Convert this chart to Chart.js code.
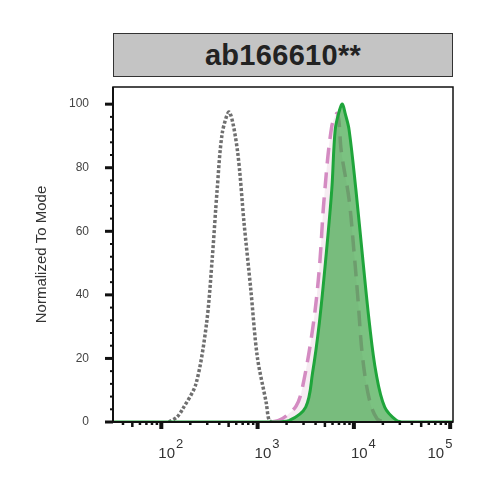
<!DOCTYPE html>
<html>
<head>
<meta charset="utf-8">
<script src="https://cdn.jsdelivr.net/npm/chart.js@4.4.1/dist/chart.umd.min.js"></script>
<style>
  html, body { margin: 0; padding: 0; background: #fff; }
  #wrap { position: relative; width: 490px; height: 490px; }
  #hdr {
    position: absolute; left: 113px; top: 33px; width: 340px; height: 44px;
    box-sizing: border-box; background: #c4c4c4; border: 1.5px solid #333;
    font: bold 29px "Liberation Sans", Arial, sans-serif; color: #222;
    text-align: center; line-height: 43px; letter-spacing: 0.3px;
  }
  canvas { position: absolute; left: 0; top: 0; }
</style>
</head>
<body>
<div id="wrap">
  <div id="hdr">ab166610**</div>
  <canvas id="c" width="490" height="490"></canvas>
</div>
<script>
  // isotype / unstained control (grey dotted)
  const grayX = [120, 145, 166, 229, 295, 339, 380, 430, 509, 617, 724, 851, 993, 1230, 1318, 1450];
  const grayY = [0, 1.5, 4, 12, 31, 52, 73, 91, 97.5, 85.5, 62.5, 41.5, 20.5, 6, 0.5, 0];

  // pink dashed sample
  const pinkX = [1410, 1660, 2000, 2510, 2880, 3720, 4370, 4900, 5890, 6760, 7410, 8910, 10000, 11000, 12300, 14500, 17400, 20900];
  const pinkY = [0, 0.5, 2, 5, 10, 29, 48, 70, 93, 97, 85, 70, 54, 39, 20.5, 7, 1, 0];

  // ab166610 (green filled)
  const greenX = [32, 1480, 2140, 3160, 3720, 4370, 5130, 5890, 6400, 7080, 7590, 8130, 8910, 10500, 12300, 14500, 17000, 20900, 27500, 33100, 107000];
  const greenY = [0, 0, 0.5, 4.7, 15.4, 31, 52, 73, 92, 98, 100, 97, 92, 73, 52, 31, 15.4, 4.7, 0.6, 0, 0];

  const yMajor = [0, 20, 40, 60, 80, 100];
  const xDecades = [2, 3, 4, 5];

  function pts(xs, ys) {
    return xs.map(function (x, i) { return { x: x, y: ys[i] }; });
  }

  const axisTicks = {
    id: 'axisTicks',
    afterDraw(chart) {
      const ctx = chart.ctx;
      const a = chart.chartArea;
      const xs = chart.scales.x;
      const ys = chart.scales.y;
      ctx.save();
      ctx.strokeStyle = '#111';
      ctx.lineWidth = 1.5;
      ctx.strokeRect(a.left, a.top, a.right - a.left, a.bottom - a.top);
      ctx.lineWidth = 2;
      ctx.beginPath();
      ctx.moveTo(a.left, a.top); ctx.lineTo(a.left, a.bottom); ctx.lineTo(a.right, a.bottom);
      ctx.stroke();

      // y ticks: major every 20, minor every 4
      for (let v = 0; v <= 100; v += 4) {
        const py = ys.getPixelForValue(v);
        const major = v % 20 === 0;
        ctx.lineWidth = major ? 3 : 2;
        ctx.beginPath();
        ctx.moveTo(a.left - (major ? 8 : 3), py);
        ctx.lineTo(a.left, py);
        ctx.stroke();
      }

      // x ticks: log decades with minors
      for (let d = 1; d <= 5; d++) {
        for (let m = 1; m <= 9; m++) {
          const v = m * Math.pow(10, d);
          if (v < xs.min || v > xs.max) continue;
          const px = xs.getPixelForValue(v);
          const len = m === 1 ? 7 : (m === 5 ? 5 : 3);
          ctx.lineWidth = m === 1 ? 4 : 2.5;
          ctx.beginPath();
          ctx.moveTo(px, a.bottom);
          ctx.lineTo(px, a.bottom + len);
          ctx.stroke();
        }
      }

      // x labels 10^n
      ctx.fillStyle = '#333';
      ctx.textBaseline = 'alphabetic';
      ctx.textAlign = 'left';
      xDecades.forEach(function (d) {
        const px = xs.getPixelForValue(Math.pow(10, d));
        ctx.font = '15px "Liberation Sans", Arial, sans-serif';
        const w = ctx.measureText('10').width;
        const x0 = d === 5 ? px - w - 6 : px - 3;
        ctx.fillText('10', x0, 458);
        ctx.font = '13px "Liberation Sans", Arial, sans-serif';
        ctx.fillText(String(d), x0 + w + 1, 448);
      });
      ctx.restore();
    }
  };

  new Chart(document.getElementById('c'), {
    type: 'line',
    data: {
      datasets: [
        {
          label: 'ab166610',
          data: pts(greenX, greenY),
          borderColor: '#1fa53b',
          backgroundColor: 'rgba(60, 165, 70, 0.68)',
          borderWidth: 3,
          fill: 'origin',
          tension: 0.35,
          pointRadius: 0,
          order: 1,
        },
        {
          label: 'pink',
          data: pts(pinkX, pinkY),
          borderColor: '#d48bc2',
          backgroundColor: 'rgba(238, 220, 232, 0.55)',
          borderWidth: 3.5,
          borderDash: [16, 9],
          fill: 'origin',
          tension: 0.35,
          pointRadius: 0,
          order: 2,
        },
        {
          label: 'control',
          data: pts(grayX, grayY),
          borderColor: '#6f6f6f',
          borderWidth: 3.5,
          borderDash: [3, 2],
          fill: false,
          tension: 0.3,
          pointRadius: 0,
          order: 3,
        },
      ],
    },
    options: {
      responsive: false,
      animation: false,
      events: [],
      layout: { padding: { left: 0, top: 87, right: 37, bottom: 0 } },
      plugins: { legend: { display: false }, tooltip: { enabled: false } },
      scales: {
        x: {
          type: 'logarithmic',
          min: 31.5,
          max: 107000,
          grid: { display: false, drawTicks: false },
          border: { display: false },
          ticks: { display: false },
          afterFit(scale) { scale.height = 68; },
        },
        y: {
          min: 0,
          max: 105.4,
          grid: { display: false, drawTicks: false },
          border: { display: false },
          afterBuildTicks(scale) {
            scale.ticks = yMajor.map(function (v) { return { value: v }; });
          },
          ticks: {
            color: '#444',
            padding: 24,
            font: { size: 12, family: '"Liberation Sans", Arial, sans-serif' },
          },
          title: {
            display: true,
            text: 'Normalized To Mode',
            color: '#333',
            padding: { top: 33, bottom: 0 },
            font: { size: 15, family: '"Liberation Sans", Arial, sans-serif' },
          },
          afterFit(scale) { scale.width = 113; },
        },
      },
    },
    plugins: [axisTicks],
  });
</script>
</body>
</html>
